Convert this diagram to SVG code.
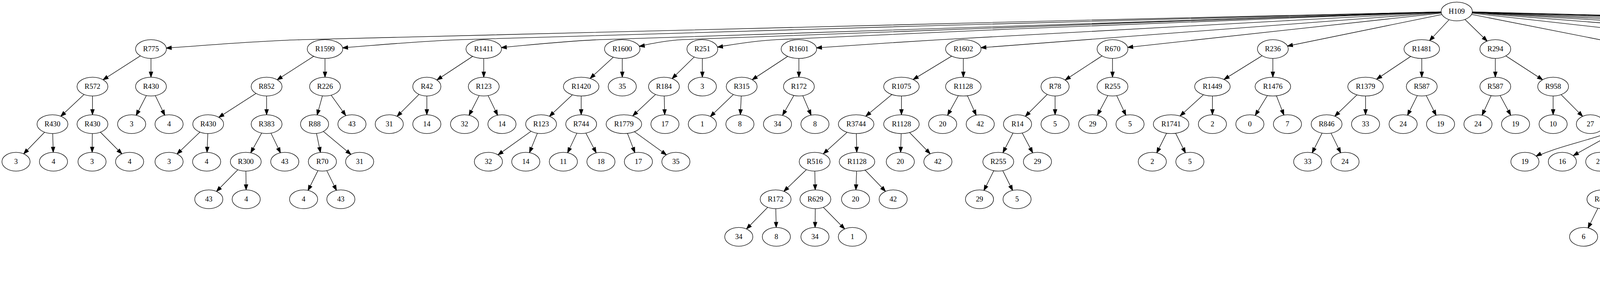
<svg xmlns="http://www.w3.org/2000/svg" width="6876" height="731" viewBox="0 0 6876 731">
<style>
.node ellipse{fill:#fff;stroke:#000;stroke-width:1.33}
.node text{font-family:"Liberation Serif","Times New Roman",serif;font-size:18.67px;text-anchor:middle;fill:#000}
#edges line,#edges path{stroke:#000;stroke-width:1.33;fill:none}
.ah{fill:#000;stroke:#000;stroke-width:1.33}
.m24{marker-end:url(#a24)}.m25{marker-end:url(#a25)}.m26{marker-end:url(#a26)}.m27{marker-end:url(#a27)}
.m28{marker-end:url(#a28)}.m29{marker-end:url(#a29)}.m30{marker-end:url(#a30)}.m31{marker-end:url(#a31)}
.m32{marker-end:url(#a32)}.m33{marker-end:url(#a33)}.m34{marker-end:url(#a34)}.m35{marker-end:url(#a35)}
.m36{marker-end:url(#a36)}.m38{marker-end:url(#a38)}.m39{marker-end:url(#a39)}.m43{marker-end:url(#a43)}
.m44{marker-end:url(#a44)}.m45{marker-end:url(#a45)}
</style>
<defs>
<marker id="a24" markerUnits="userSpaceOnUse" markerWidth="70" markerHeight="10" refX="37.33" refY="4.67" orient="auto" overflow="visible"><path class="ah" d="M0,0L13.33,4.67L0,9.33z"/></marker>
<marker id="a25" markerUnits="userSpaceOnUse" markerWidth="70" markerHeight="10" refX="38.33" refY="4.67" orient="auto" overflow="visible"><path class="ah" d="M0,0L13.33,4.67L0,9.33z"/></marker>
<marker id="a26" markerUnits="userSpaceOnUse" markerWidth="70" markerHeight="10" refX="39.33" refY="4.67" orient="auto" overflow="visible"><path class="ah" d="M0,0L13.33,4.67L0,9.33z"/></marker>
<marker id="a27" markerUnits="userSpaceOnUse" markerWidth="70" markerHeight="10" refX="40.33" refY="4.67" orient="auto" overflow="visible"><path class="ah" d="M0,0L13.33,4.67L0,9.33z"/></marker>
<marker id="a28" markerUnits="userSpaceOnUse" markerWidth="70" markerHeight="10" refX="41.33" refY="4.67" orient="auto" overflow="visible"><path class="ah" d="M0,0L13.33,4.67L0,9.33z"/></marker>
<marker id="a29" markerUnits="userSpaceOnUse" markerWidth="70" markerHeight="10" refX="42.33" refY="4.67" orient="auto" overflow="visible"><path class="ah" d="M0,0L13.33,4.67L0,9.33z"/></marker>
<marker id="a30" markerUnits="userSpaceOnUse" markerWidth="70" markerHeight="10" refX="43.33" refY="4.67" orient="auto" overflow="visible"><path class="ah" d="M0,0L13.33,4.67L0,9.33z"/></marker>
<marker id="a31" markerUnits="userSpaceOnUse" markerWidth="70" markerHeight="10" refX="44.33" refY="4.67" orient="auto" overflow="visible"><path class="ah" d="M0,0L13.33,4.67L0,9.33z"/></marker>
<marker id="a32" markerUnits="userSpaceOnUse" markerWidth="70" markerHeight="10" refX="45.33" refY="4.67" orient="auto" overflow="visible"><path class="ah" d="M0,0L13.33,4.67L0,9.33z"/></marker>
<marker id="a33" markerUnits="userSpaceOnUse" markerWidth="70" markerHeight="10" refX="46.33" refY="4.67" orient="auto" overflow="visible"><path class="ah" d="M0,0L13.33,4.67L0,9.33z"/></marker>
<marker id="a34" markerUnits="userSpaceOnUse" markerWidth="70" markerHeight="10" refX="47.33" refY="4.67" orient="auto" overflow="visible"><path class="ah" d="M0,0L13.33,4.67L0,9.33z"/></marker>
<marker id="a35" markerUnits="userSpaceOnUse" markerWidth="70" markerHeight="10" refX="48.33" refY="4.67" orient="auto" overflow="visible"><path class="ah" d="M0,0L13.33,4.67L0,9.33z"/></marker>
<marker id="a36" markerUnits="userSpaceOnUse" markerWidth="70" markerHeight="10" refX="49.33" refY="4.67" orient="auto" overflow="visible"><path class="ah" d="M0,0L13.33,4.67L0,9.33z"/></marker>
<marker id="a38" markerUnits="userSpaceOnUse" markerWidth="70" markerHeight="10" refX="51.33" refY="4.67" orient="auto" overflow="visible"><path class="ah" d="M0,0L13.33,4.67L0,9.33z"/></marker>
<marker id="a39" markerUnits="userSpaceOnUse" markerWidth="70" markerHeight="10" refX="52.33" refY="4.67" orient="auto" overflow="visible"><path class="ah" d="M0,0L13.33,4.67L0,9.33z"/></marker>
<marker id="a43" markerUnits="userSpaceOnUse" markerWidth="70" markerHeight="10" refX="56.33" refY="4.67" orient="auto" overflow="visible"><path class="ah" d="M0,0L13.33,4.67L0,9.33z"/></marker>
<marker id="a44" markerUnits="userSpaceOnUse" markerWidth="70" markerHeight="10" refX="57.33" refY="4.67" orient="auto" overflow="visible"><path class="ah" d="M0,0L13.33,4.67L0,9.33z"/></marker>
<marker id="a45" markerUnits="userSpaceOnUse" markerWidth="70" markerHeight="10" refX="58.33" refY="4.67" orient="auto" overflow="visible"><path class="ah" d="M0,0L13.33,4.67L0,9.33z"/></marker>
</defs>
<rect width="6876" height="731" fill="#fff"/>
<g id="edges">
<path d="M3729.2,29.33C2744.3,53.33 1759.5,73.04 774.5,101.33C645,105.05 515.8,117.33 386.5,125.33" class="m39"/>
<path d="M3729.2,29.33C2879.8,53.33 2030.2,73.18 1180.9,101.33C1064.4,105.19 948.3,117.33 832,125.33" class="m45"/>
<path d="M3729.2,29.33C2998,53.33 2266.6,73.15 1535.5,101.33C1436.2,105.16 1337.4,117.33 1238.4,125.33" class="m45"/>
<path d="M3729.2,29.33C3068.3,53.33 2407.1,71.64 1746.5,101.33C1694.8,103.66 1644.2,117.33 1593,125.33" class="m44"/>
<path d="M3729.2,29.33C3148.7,53.33 2568,72.48 1987.7,101.33C1924.1,104.49 1861.2,117.33 1798,125.33" class="m39"/>
<path d="M3729.2,29.33C3289,53.33 2848.7,76.24 2408.6,101.33C2287.4,108.24 2166.3,117.33 2045.2,125.33" class="m45"/>
<line x1="3729.2" y1="29.33" x2="2466.1" y2="125.33" class="m45"/>
<line x1="3729.2" y1="29.33" x2="2848" y2="125.33" class="m39"/>
<line x1="3729.2" y1="29.33" x2="3258.5" y2="125.33" class="m38"/>
<line x1="3729.2" y1="29.33" x2="3639.7" y2="125.33" class="m29"/>
<line x1="3729.2" y1="29.33" x2="3828" y2="125.33" class="m29"/>
<line x1="3729.2" y1="29.33" x2="4217.1" y2="125.33" class="m43"/>
<line x1="3729.2" y1="29.33" x2="4589.2" y2="125.33" class="m39"/>
<path d="M3729.2,29.33C4033,53.33 4337,75.39 4640.7,101.33C4711.6,107.39 4782.2,117.33 4853,125.33" class="m44"/>
<path d="M3729.2,29.33C4123,53.33 4517,73.73 4910.5,101.33C4973.4,105.75 5035.7,117.33 5098.3,125.33" class="m35"/>
<path d="M3729.2,29.33C4201.6,53.33 4674,74.79 5146.3,101.33C5243.4,106.79 5340.2,117.33 5437.1,125.33" class="m45"/>
<path d="M3729.2,29.33C4317.7,53.33 4906.2,74.83 5494.6,101.33C5616.9,106.84 5738.9,117.33 5861,125.33" class="m45"/>
<path d="M3729.2,29.33C4459,53.33 5188.9,71.9 5918.5,101.33C5982.4,103.91 6045.4,117.33 6108.8,125.33" class="m44"/>
<path d="M3729.2,29.33C4541.6,53.33 5354.1,71.82 6166.3,101.33C6235.3,103.84 6303.3,117.33 6371.8,125.33" class="m44"/>
<path d="M3729.2,29.33C4629.2,53.33 5529.5,69.9 6429.3,101.33C6447.2,101.95 6461.3,117.33 6477.3,125.33" class="m32"/>
<line x1="386.5" y1="125.33" x2="236.7" y2="221.33" class="m32"/>
<line x1="386.5" y1="125.33" x2="386.5" y2="221.33" class="m24"/>
<line x1="832" y1="125.33" x2="682.5" y2="221.33" class="m32"/>
<line x1="832" y1="125.33" x2="832" y2="221.33" class="m24"/>
<line x1="1238.4" y1="125.33" x2="1092.7" y2="221.33" class="m31"/>
<line x1="1238.4" y1="125.33" x2="1238.4" y2="221.33" class="m24"/>
<line x1="1593" y1="125.33" x2="1487.8" y2="221.33" class="m31"/>
<line x1="1593" y1="125.33" x2="1593" y2="221.33" class="m24"/>
<line x1="1798" y1="125.33" x2="1699.7" y2="221.33" class="m29"/>
<line x1="1798" y1="125.33" x2="1798" y2="221.33" class="m24"/>
<line x1="2045.2" y1="125.33" x2="1898.7" y2="221.33" class="m32"/>
<line x1="2045.2" y1="125.33" x2="2045.2" y2="221.33" class="m24"/>
<line x1="2466.1" y1="125.33" x2="2307.7" y2="221.33" class="m35"/>
<line x1="2466.1" y1="125.33" x2="2466.1" y2="221.33" class="m24"/>
<line x1="2848" y1="125.33" x2="2701" y2="221.33" class="m31"/>
<line x1="2848" y1="125.33" x2="2848" y2="221.33" class="m24"/>
<line x1="3258.5" y1="125.33" x2="3103.8" y2="221.33" class="m35"/>
<line x1="3258.5" y1="125.33" x2="3258.5" y2="221.33" class="m24"/>
<line x1="3639.7" y1="125.33" x2="3495.8" y2="221.33" class="m34"/>
<line x1="3639.7" y1="125.33" x2="3639.7" y2="221.33" class="m24"/>
<line x1="3828" y1="125.33" x2="3828" y2="221.33" class="m24"/>
<line x1="3828" y1="125.33" x2="3976" y2="221.33" class="m32"/>
<line x1="4217.1" y1="125.33" x2="4217.1" y2="221.33" class="m24"/>
<line x1="4217.1" y1="125.33" x2="4377" y2="221.33" class="m35"/>
<line x1="4589.2" y1="125.33" x2="4589.2" y2="221.33" class="m24"/>
<line x1="4589.2" y1="125.33" x2="4689.1" y2="221.33" class="m28"/>
<line x1="4853" y1="125.33" x2="4853" y2="221.33" class="m24"/>
<line x1="4853" y1="125.33" x2="4992.9" y2="221.33" class="m34"/>
<line x1="5098.3" y1="125.33" x2="5098.3" y2="221.33" class="m24"/>
<line x1="5098.3" y1="125.33" x2="5194" y2="221.33" class="m28"/>
<line x1="5437.1" y1="125.33" x2="5437.1" y2="221.33" class="m24"/>
<line x1="5437.1" y1="125.33" x2="5661.2" y2="221.33" class="m38"/>
<line x1="5861" y1="125.33" x2="5861" y2="221.33" class="m24"/>
<line x1="5861" y1="125.33" x2="5961.1" y2="221.33" class="m28"/>
<line x1="6108.8" y1="125.33" x2="6108.8" y2="221.33" class="m24"/>
<line x1="6108.8" y1="125.33" x2="6266" y2="221.33" class="m35"/>
<line x1="6371.8" y1="125.33" x2="6514.6" y2="221.33" class="m34"/>
<path d="M6371.8,125.33C6429.3,149.33 6583.85,185.33 6738.4,221.33" class="m38"/>
<line x1="236.7" y1="221.33" x2="134.3" y2="317.33" class="m29"/>
<line x1="236.7" y1="221.33" x2="236.7" y2="317.33" class="m24"/>
<line x1="386.5" y1="221.33" x2="337" y2="317.33" class="m25"/>
<line x1="386.5" y1="221.33" x2="432.8" y2="317.33" class="m25"/>
<line x1="682.5" y1="221.33" x2="533" y2="317.33" class="m32"/>
<line x1="682.5" y1="221.33" x2="682.5" y2="317.33" class="m24"/>
<line x1="832" y1="221.33" x2="805.3" y2="317.33" class="m24"/>
<line x1="832" y1="221.33" x2="901" y2="317.33" class="m27"/>
<line x1="1092.7" y1="221.33" x2="996.5" y2="317.33" class="m28"/>
<line x1="1092.7" y1="221.33" x2="1092.7" y2="317.33" class="m24"/>
<line x1="1238.4" y1="221.33" x2="1189.2" y2="317.33" class="m25"/>
<line x1="1238.4" y1="221.33" x2="1285" y2="317.33" class="m25"/>
<line x1="1487.8" y1="221.33" x2="1385.2" y2="317.33" class="m29"/>
<line x1="1487.8" y1="221.33" x2="1487.8" y2="317.33" class="m24"/>
<line x1="1699.7" y1="221.33" x2="1597.2" y2="317.33" class="m31"/>
<line x1="1699.7" y1="221.33" x2="1702.3" y2="317.33" class="m24"/>
<line x1="1898.7" y1="221.33" x2="1798" y2="317.33" class="m28"/>
<line x1="1898.7" y1="221.33" x2="1894.2" y2="317.33" class="m24"/>
<line x1="2045.2" y1="221.33" x2="1990.4" y2="317.33" class="m26"/>
<line x1="2045.2" y1="221.33" x2="2086.3" y2="317.33" class="m25"/>
<line x1="2307.7" y1="221.33" x2="2191.7" y2="317.33" class="m32"/>
<line x1="2307.7" y1="221.33" x2="2307.7" y2="317.33" class="m24"/>
<line x1="2466.1" y1="221.33" x2="2413.2" y2="317.33" class="m26"/>
<line x1="2466.1" y1="221.33" x2="2509.4" y2="317.33" class="m25"/>
<line x1="2701" y1="221.33" x2="2604.9" y2="317.33" class="m28"/>
<line x1="2701" y1="221.33" x2="2701" y2="317.33" class="m24"/>
<line x1="2848" y1="221.33" x2="2797.2" y2="317.33" class="m26"/>
<line x1="2848" y1="221.33" x2="2892.9" y2="317.33" class="m25"/>
<line x1="3103.8" y1="221.33" x2="2998" y2="317.33" class="m31"/>
<line x1="3103.8" y1="221.33" x2="3103.8" y2="317.33" class="m24"/>
<line x1="3258.5" y1="221.33" x2="3199.7" y2="317.33" class="m26"/>
<line x1="3258.5" y1="221.33" x2="3295.9" y2="317.33" class="m25"/>
<line x1="3495.8" y1="221.33" x2="3396.1" y2="317.33" class="m29"/>
<line x1="3495.8" y1="221.33" x2="3495.8" y2="317.33" class="m24"/>
<line x1="3639.7" y1="221.33" x2="3592" y2="317.33" class="m25"/>
<line x1="3639.7" y1="221.33" x2="3687.8" y2="317.33" class="m25"/>
<line x1="3828" y1="221.33" x2="3783.6" y2="317.33" class="m25"/>
<line x1="3828" y1="221.33" x2="3879.8" y2="317.33" class="m26"/>
<line x1="3976" y1="221.33" x2="3976" y2="317.33" class="m24"/>
<line x1="3976" y1="221.33" x2="4071.4" y2="317.33" class="m28"/>
<line x1="4217.1" y1="221.33" x2="4172" y2="317.33" class="m25"/>
<line x1="4217.1" y1="221.33" x2="4271.9" y2="317.33" class="m26"/>
<line x1="4377" y1="221.33" x2="4377" y2="317.33" class="m24"/>
<line x1="4377" y1="221.33" x2="4486" y2="317.33" class="m30"/>
<line x1="4589.2" y1="221.33" x2="4589.2" y2="317.33" class="m24"/>
<line x1="4589.2" y1="221.33" x2="4689.1" y2="317.33" class="m28"/>
<line x1="4853" y1="221.33" x2="4794.2" y2="317.33" class="m27"/>
<line x1="4853" y1="221.33" x2="4910" y2="317.33" class="m27"/>
<line x1="4992.9" y1="221.33" x2="5054.6" y2="317.33" class="m27"/>
<line x1="4992.9" y1="221.33" x2="5159.2" y2="317.33" class="m31"/>
<line x1="5437.1" y1="221.33" x2="5379.7" y2="317.33" class="m27"/>
<line x1="5437.1" y1="221.33" x2="5495.5" y2="317.33" class="m27"/>
<line x1="5661.2" y1="221.33" x2="5661.2" y2="317.33" class="m24"/>
<line x1="5661.2" y1="221.33" x2="5761" y2="317.33" class="m28"/>
<line x1="5861" y1="221.33" x2="5861" y2="317.33" class="m24"/>
<line x1="5861" y1="221.33" x2="5961.1" y2="317.33" class="m28"/>
<line x1="6108.8" y1="221.33" x2="6057" y2="317.33" class="m26"/>
<line x1="6108.8" y1="221.33" x2="6157.2" y2="317.33" class="m26"/>
<line x1="6266" y1="221.33" x2="6266" y2="317.33" class="m24"/>
<line x1="6266" y1="221.33" x2="6371.8" y2="317.33" class="m29"/>
<line x1="6514.6" y1="221.33" x2="6514.6" y2="317.33" class="m24"/>
<line x1="6514.6" y1="221.33" x2="6638.2" y2="317.33" class="m31"/>
<line x1="6738.4" y1="221.33" x2="6738.4" y2="317.33" class="m24"/>
<line x1="6738.4" y1="221.33" x2="6834.3" y2="317.33" class="m28"/>
<line x1="134.3" y1="317.33" x2="41" y2="413.33" class="m28"/>
<line x1="134.3" y1="317.33" x2="136.9" y2="413.33" class="m24"/>
<line x1="236.7" y1="317.33" x2="235.6" y2="413.33" class="m24"/>
<line x1="236.7" y1="317.33" x2="331.8" y2="413.33" class="m28"/>
<line x1="533" y1="317.33" x2="432.8" y2="413.33" class="m28"/>
<line x1="533" y1="317.33" x2="529" y2="413.33" class="m24"/>
<line x1="682.5" y1="317.33" x2="629.2" y2="413.33" class="m26"/>
<line x1="682.5" y1="317.33" x2="729" y2="413.33" class="m25"/>
<line x1="805.3" y1="317.33" x2="825.3" y2="413.33" class="m24"/>
<line x1="805.3" y1="317.33" x2="920.7" y2="413.33" class="m29"/>
<line x1="1385.2" y1="317.33" x2="1250.3" y2="413.33" class="m30"/>
<line x1="1385.2" y1="317.33" x2="1346" y2="413.33" class="m25"/>
<line x1="1487.8" y1="317.33" x2="1442.2" y2="413.33" class="m25"/>
<line x1="1487.8" y1="317.33" x2="1538.4" y2="413.33" class="m26"/>
<line x1="1597.2" y1="317.33" x2="1634.3" y2="413.33" class="m25"/>
<line x1="1597.2" y1="317.33" x2="1730.3" y2="413.33" class="m30"/>
<line x1="2191.7" y1="317.33" x2="2085.5" y2="413.33" class="m30"/>
<line x1="2191.7" y1="317.33" x2="2193.9" y2="413.33" class="m24"/>
<line x1="2307.7" y1="317.33" x2="2304.8" y2="413.33" class="m24"/>
<line x1="2307.7" y1="317.33" x2="2401" y2="413.33" class="m28"/>
<line x1="2604.9" y1="317.33" x2="2555.6" y2="413.33" class="m26"/>
<line x1="2604.9" y1="317.33" x2="2655.9" y2="413.33" class="m26"/>
<line x1="2998" y1="317.33" x2="2949.9" y2="413.33" class="m25"/>
<line x1="2998" y1="317.33" x2="3046.1" y2="413.33" class="m25"/>
<line x1="3396.1" y1="317.33" x2="3347.7" y2="413.33" class="m25"/>
<line x1="3396.1" y1="317.33" x2="3443.3" y2="413.33" class="m25"/>
<path d="M4172,317.33C4066.8,365.33 3999.4,365.33 3903.8,413.33" class="m32"/>
<line x1="4172" y1="317.33" x2="3999.6" y2="413.33" class="m32"/>
<path d="M4377,317.33C4262.8,365.33 4191.4,365.33 4095.4,413.33" class="m32"/>
<line x1="4377" y1="317.33" x2="4200.9" y2="413.33" class="m36"/>
<line x1="4486" y1="317.33" x2="4310.3" y2="413.33" class="m33"/>
<line x1="4486" y1="317.33" x2="4410.2" y2="413.33" class="m27"/>
<line x1="4589.2" y1="317.33" x2="4506" y2="413.33" class="m27"/>
<line x1="4589.2" y1="317.33" x2="4601.8" y2="413.33" class="m24"/>
<line x1="4794.2" y1="317.33" x2="4698" y2="413.33" class="m28"/>
<line x1="4794.2" y1="317.33" x2="4794.2" y2="413.33" class="m24"/>
<line x1="4910" y1="317.33" x2="4890.4" y2="413.33" class="m24"/>
<line x1="4910" y1="317.33" x2="4986.2" y2="413.33" class="m27"/>
<line x1="5054.6" y1="317.33" x2="5082.3" y2="413.33" class="m24"/>
<line x1="5054.6" y1="317.33" x2="5178.1" y2="413.33" class="m30"/>
<line x1="5379.7" y1="317.33" x2="5283.5" y2="413.33" class="m30"/>
<line x1="5379.7" y1="317.33" x2="5389" y2="413.33" class="m24"/>
<line x1="5495.5" y1="317.33" x2="5485.1" y2="413.33" class="m24"/>
<line x1="5495.5" y1="317.33" x2="5580.9" y2="413.33" class="m28"/>
<line x1="5661.2" y1="317.33" x2="5676.7" y2="413.33" class="m24"/>
<line x1="5661.2" y1="317.33" x2="5772.9" y2="413.33" class="m29"/>
<line x1="5861" y1="317.33" x2="5869" y2="413.33" class="m24"/>
<line x1="5861" y1="317.33" x2="5964.9" y2="413.33" class="m29"/>
<line x1="6157.2" y1="317.33" x2="6061" y2="413.33" class="m28"/>
<line x1="6157.2" y1="317.33" x2="6157.2" y2="413.33" class="m24"/>
<line x1="6266" y1="317.33" x2="6257" y2="413.33" class="m24"/>
<line x1="6266" y1="317.33" x2="6357" y2="413.33" class="m28"/>
<line x1="6514.6" y1="317.33" x2="6457.3" y2="413.33" class="m26"/>
<line x1="6514.6" y1="317.33" x2="6559.8" y2="413.33" class="m25"/>
<line x1="6638.2" y1="317.33" x2="6659.7" y2="413.33" class="m24"/>
<line x1="6638.2" y1="317.33" x2="6755.9" y2="413.33" class="m29"/>
<line x1="629.2" y1="413.33" x2="534.5" y2="509.33" class="m28"/>
<line x1="629.2" y1="413.33" x2="630.3" y2="509.33" class="m24"/>
<line x1="825.3" y1="413.33" x2="777.2" y2="509.33" class="m25"/>
<line x1="825.3" y1="413.33" x2="872.6" y2="509.33" class="m25"/>
<line x1="2085.5" y1="413.33" x2="1985.6" y2="509.33" class="m29"/>
<line x1="2085.5" y1="413.33" x2="2087.4" y2="509.33" class="m24"/>
<line x1="2193.9" y1="413.33" x2="2190.2" y2="509.33" class="m24"/>
<line x1="2193.9" y1="413.33" x2="2286.5" y2="509.33" class="m28"/>
<line x1="2555.6" y1="413.33" x2="2507.5" y2="509.33" class="m25"/>
<line x1="2555.6" y1="413.33" x2="2603.7" y2="509.33" class="m25"/>
<line x1="4200.9" y1="413.33" x2="4102.1" y2="509.33" class="m29"/>
<line x1="4200.9" y1="413.33" x2="4202" y2="509.33" class="m24"/>
<line x1="4310.3" y1="413.33" x2="4301.9" y2="509.33" class="m24"/>
<line x1="4310.3" y1="413.33" x2="4398" y2="509.33" class="m28"/>
<line x1="4506" y1="413.33" x2="4504.9" y2="509.33" class="m24"/>
<line x1="4506" y1="413.33" x2="4610" y2="509.33" class="m29"/>
<line x1="5283.5" y1="413.33" x2="5235.4" y2="509.33" class="m25"/>
<line x1="5283.5" y1="413.33" x2="5331.6" y2="509.33" class="m25"/>
<line x1="6257" y1="413.33" x2="6135.4" y2="509.33" class="m30"/>
<line x1="6257" y1="413.33" x2="6256.7" y2="509.33" class="m24"/>
<line x1="6457.3" y1="413.33" x2="6357" y2="509.33" class="m29"/>
<line x1="6457.3" y1="413.33" x2="6459.9" y2="509.33" class="m24"/>
<line x1="6559.8" y1="413.33" x2="6559" y2="509.33" class="m24"/>
<line x1="6559.8" y1="413.33" x2="6655.6" y2="509.33" class="m28"/>
<line x1="1985.6" y1="509.33" x2="1891.3" y2="605.33" class="m28"/>
<line x1="1985.6" y1="509.33" x2="1987.5" y2="605.33" class="m24"/>
<line x1="2087.4" y1="509.33" x2="2086.3" y2="605.33" class="m24"/>
<line x1="2087.4" y1="509.33" x2="2182.1" y2="605.33" class="m28"/>
<line x1="4102.1" y1="509.33" x2="4054" y2="605.33" class="m25"/>
<line x1="4102.1" y1="509.33" x2="4150.2" y2="605.33" class="m25"/>
<line x1="4504.9" y1="509.33" x2="4457.3" y2="605.33" class="m25"/>
<line x1="4504.9" y1="509.33" x2="4552.3" y2="605.33" class="m25"/>
<line x1="6135.4" y1="509.33" x2="6039.6" y2="605.33" class="m28"/>
<line x1="6135.4" y1="509.33" x2="6135.4" y2="605.33" class="m24"/>
<line x1="6357" y1="509.33" x2="6240.8" y2="605.33" class="m32"/>
<line x1="6357" y1="509.33" x2="6357" y2="605.33" class="m24"/>
<line x1="6459.9" y1="509.33" x2="6462.1" y2="605.33" class="m24"/>
<line x1="6459.9" y1="509.33" x2="6558" y2="605.33" class="m28"/>
<line x1="6240.8" y1="605.33" x2="6149.8" y2="701.33" class="m28"/>
<line x1="6240.8" y1="605.33" x2="6246" y2="701.33" class="m24"/>
<line x1="6357" y1="605.33" x2="6351.5" y2="701.33" class="m24"/>
<line x1="6357" y1="605.33" x2="6447.7" y2="701.33" class="m28"/>
</g>
<g id="L0_3729" class="node"><ellipse cx="3729.2" cy="29.33" rx="40" ry="24"/><text x="3729.2" y="34.93">H109</text></g>
<g id="L1_386" class="node"><ellipse cx="386.5" cy="125.33" rx="39.5" ry="24"/><text x="386.5" y="130.93">R775</text></g>
<g id="L1_832" class="node"><ellipse cx="832" cy="125.33" rx="45.5" ry="24"/><text x="832" y="130.93">R1599</text></g>
<g id="L1_1238" class="node"><ellipse cx="1238.4" cy="125.33" rx="45.5" ry="24"/><text x="1238.4" y="130.93">R1411</text></g>
<g id="L1_1593" class="node"><ellipse cx="1593" cy="125.33" rx="45.5" ry="24"/><text x="1593" y="130.93">R1600</text></g>
<g id="L1_1798" class="node"><ellipse cx="1798" cy="125.33" rx="39.5" ry="24"/><text x="1798" y="130.93">R251</text></g>
<g id="L1_2045" class="node"><ellipse cx="2045.2" cy="125.33" rx="45.5" ry="24"/><text x="2045.2" y="130.93">R1601</text></g>
<g id="L1_2466" class="node"><ellipse cx="2466.1" cy="125.33" rx="45.5" ry="24"/><text x="2466.1" y="130.93">R1602</text></g>
<g id="L1_2848" class="node"><ellipse cx="2848" cy="125.33" rx="39.5" ry="24"/><text x="2848" y="130.93">R670</text></g>
<g id="L1_3258" class="node"><ellipse cx="3258.5" cy="125.33" rx="39.5" ry="24"/><text x="3258.5" y="130.93">R236</text></g>
<g id="L1_3640" class="node"><ellipse cx="3639.7" cy="125.33" rx="45.5" ry="24"/><text x="3639.7" y="130.93">R1481</text></g>
<g id="L1_3828" class="node"><ellipse cx="3828" cy="125.33" rx="39.5" ry="24"/><text x="3828" y="130.93">R294</text></g>
<g id="L1_4217" class="node"><ellipse cx="4217.1" cy="125.33" rx="45.5" ry="24"/><text x="4217.1" y="130.93">R1603</text></g>
<g id="L1_4589" class="node"><ellipse cx="4589.2" cy="125.33" rx="39.5" ry="24"/><text x="4589.2" y="130.93">R963</text></g>
<g id="L1_4853" class="node"><ellipse cx="4853" cy="125.33" rx="45.5" ry="24"/><text x="4853" y="130.93">R1484</text></g>
<g id="L1_5098" class="node"><ellipse cx="5098.3" cy="125.33" rx="36" ry="24"/><text x="5098.3" y="130.93">R64</text></g>
<g id="L1_5437" class="node"><ellipse cx="5437.1" cy="125.33" rx="45.5" ry="24"/><text x="5437.1" y="130.93">R1604</text></g>
<g id="L1_5861" class="node"><ellipse cx="5861" cy="125.33" rx="45.5" ry="24"/><text x="5861" y="130.93">R1191</text></g>
<g id="L1_6109" class="node"><ellipse cx="6108.8" cy="125.33" rx="45.5" ry="24"/><text x="6108.8" y="130.93">R1605</text></g>
<g id="L1_6372" class="node"><ellipse cx="6371.8" cy="125.33" rx="45.5" ry="24"/><text x="6371.8" y="130.93">R1436</text></g>
<g id="L1_6477" class="node"><ellipse cx="6477.3" cy="125.33" rx="36" ry="24"/><text x="6477.3" y="130.93">23</text></g>
<g id="L2_237" class="node"><ellipse cx="236.7" cy="221.33" rx="39.5" ry="24"/><text x="236.7" y="226.93">R572</text></g>
<g id="L2_386" class="node"><ellipse cx="386.5" cy="221.33" rx="39.5" ry="24"/><text x="386.5" y="226.93">R430</text></g>
<g id="L2_682" class="node"><ellipse cx="682.5" cy="221.33" rx="39.5" ry="24"/><text x="682.5" y="226.93">R852</text></g>
<g id="L2_832" class="node"><ellipse cx="832" cy="221.33" rx="39.5" ry="24"/><text x="832" y="226.93">R226</text></g>
<g id="L2_1093" class="node"><ellipse cx="1092.7" cy="221.33" rx="36" ry="24"/><text x="1092.7" y="226.93">R42</text></g>
<g id="L2_1238" class="node"><ellipse cx="1238.4" cy="221.33" rx="39.5" ry="24"/><text x="1238.4" y="226.93">R123</text></g>
<g id="L2_1488" class="node"><ellipse cx="1487.8" cy="221.33" rx="45.5" ry="24"/><text x="1487.8" y="226.93">R1420</text></g>
<g id="L2_1593" class="node"><ellipse cx="1593" cy="221.33" rx="36" ry="24"/><text x="1593" y="226.93">35</text></g>
<g id="L2_1700" class="node"><ellipse cx="1699.7" cy="221.33" rx="39.5" ry="24"/><text x="1699.7" y="226.93">R184</text></g>
<g id="L2_1798" class="node"><ellipse cx="1798" cy="221.33" rx="36" ry="24"/><text x="1798" y="226.93">3</text></g>
<g id="L2_1899" class="node"><ellipse cx="1898.7" cy="221.33" rx="39.5" ry="24"/><text x="1898.7" y="226.93">R315</text></g>
<g id="L2_2045" class="node"><ellipse cx="2045.2" cy="221.33" rx="39.5" ry="24"/><text x="2045.2" y="226.93">R172</text></g>
<g id="L2_2308" class="node"><ellipse cx="2307.7" cy="221.33" rx="45.5" ry="24"/><text x="2307.7" y="226.93">R1075</text></g>
<g id="L2_2466" class="node"><ellipse cx="2466.1" cy="221.33" rx="45.5" ry="24"/><text x="2466.1" y="226.93">R1128</text></g>
<g id="L2_2701" class="node"><ellipse cx="2701" cy="221.33" rx="36" ry="24"/><text x="2701" y="226.93">R78</text></g>
<g id="L2_2848" class="node"><ellipse cx="2848" cy="221.33" rx="39.5" ry="24"/><text x="2848" y="226.93">R255</text></g>
<g id="L2_3104" class="node"><ellipse cx="3103.8" cy="221.33" rx="45.5" ry="24"/><text x="3103.8" y="226.93">R1449</text></g>
<g id="L2_3258" class="node"><ellipse cx="3258.5" cy="221.33" rx="45.5" ry="24"/><text x="3258.5" y="226.93">R1476</text></g>
<g id="L2_3496" class="node"><ellipse cx="3495.8" cy="221.33" rx="45.5" ry="24"/><text x="3495.8" y="226.93">R1379</text></g>
<g id="L2_3640" class="node"><ellipse cx="3639.7" cy="221.33" rx="39.5" ry="24"/><text x="3639.7" y="226.93">R587</text></g>
<g id="L2_3828" class="node"><ellipse cx="3828" cy="221.33" rx="39.5" ry="24"/><text x="3828" y="226.93">R587</text></g>
<g id="L2_3976" class="node"><ellipse cx="3976" cy="221.33" rx="39.5" ry="24"/><text x="3976" y="226.93">R958</text></g>
<g id="L2_4217" class="node"><ellipse cx="4217.1" cy="221.33" rx="45.5" ry="24"/><text x="4217.1" y="226.93">R1345</text></g>
<g id="L2_4377" class="node"><ellipse cx="4377" cy="221.33" rx="45.5" ry="24"/><text x="4377" y="226.93">R1664</text></g>
<g id="L2_4589" class="node"><ellipse cx="4589.2" cy="221.33" rx="39.5" ry="24"/><text x="4589.2" y="226.93">R880</text></g>
<g id="L2_4689" class="node"><ellipse cx="4689.1" cy="221.33" rx="36" ry="24"/><text x="4689.1" y="226.93">36</text></g>
<g id="L2_4853" class="node"><ellipse cx="4853" cy="221.33" rx="36" ry="24"/><text x="4853" y="226.93">R99</text></g>
<g id="L2_4993" class="node"><ellipse cx="4992.9" cy="221.33" rx="45.5" ry="24"/><text x="4992.9" y="226.93">R1587</text></g>
<g id="L2_5098" class="node"><ellipse cx="5098.3" cy="221.33" rx="36" ry="24"/><text x="5098.3" y="226.93">37</text></g>
<g id="L2_5194" class="node"><ellipse cx="5194" cy="221.33" rx="36" ry="24"/><text x="5194" y="226.93">36</text></g>
<g id="L2_5437" class="node"><ellipse cx="5437.1" cy="221.33" rx="39.5" ry="24"/><text x="5437.1" y="226.93">R675</text></g>
<g id="L2_5661" class="node"><ellipse cx="5661.2" cy="221.33" rx="45.5" ry="24"/><text x="5661.2" y="226.93">R2098</text></g>
<g id="L2_5861" class="node"><ellipse cx="5861" cy="221.33" rx="39.5" ry="24"/><text x="5861" y="226.93">R737</text></g>
<g id="L2_5961" class="node"><ellipse cx="5961.1" cy="221.33" rx="36" ry="24"/><text x="5961.1" y="226.93">21</text></g>
<g id="L2_6109" class="node"><ellipse cx="6108.8" cy="221.33" rx="39.5" ry="24"/><text x="6108.8" y="226.93">R200</text></g>
<g id="L2_6266" class="node"><ellipse cx="6266" cy="221.33" rx="45.5" ry="24"/><text x="6266" y="226.93">R1148</text></g>
<g id="L2_6515" class="node"><ellipse cx="6514.6" cy="221.33" rx="45.5" ry="24"/><text x="6514.6" y="226.93">R1051</text></g>
<g id="L2_6738" class="node"><ellipse cx="6738.4" cy="221.33" rx="39.5" ry="24"/><text x="6738.4" y="226.93">R139</text></g>
<g id="L3_134" class="node"><ellipse cx="134.3" cy="317.33" rx="39.5" ry="24"/><text x="134.3" y="322.93">R430</text></g>
<g id="L3_237" class="node"><ellipse cx="236.7" cy="317.33" rx="39.5" ry="24"/><text x="236.7" y="322.93">R430</text></g>
<g id="L3_337" class="node"><ellipse cx="337" cy="317.33" rx="36" ry="24"/><text x="337" y="322.93">3</text></g>
<g id="L3_433" class="node"><ellipse cx="432.8" cy="317.33" rx="36" ry="24"/><text x="432.8" y="322.93">4</text></g>
<g id="L3_533" class="node"><ellipse cx="533" cy="317.33" rx="39.5" ry="24"/><text x="533" y="322.93">R430</text></g>
<g id="L3_682" class="node"><ellipse cx="682.5" cy="317.33" rx="39.5" ry="24"/><text x="682.5" y="322.93">R383</text></g>
<g id="L3_805" class="node"><ellipse cx="805.3" cy="317.33" rx="36" ry="24"/><text x="805.3" y="322.93">R88</text></g>
<g id="L3_901" class="node"><ellipse cx="901" cy="317.33" rx="36" ry="24"/><text x="901" y="322.93">43</text></g>
<g id="L3_996" class="node"><ellipse cx="996.5" cy="317.33" rx="36" ry="24"/><text x="996.5" y="322.93">31</text></g>
<g id="L3_1093" class="node"><ellipse cx="1092.7" cy="317.33" rx="36" ry="24"/><text x="1092.7" y="322.93">14</text></g>
<g id="L3_1189" class="node"><ellipse cx="1189.2" cy="317.33" rx="36" ry="24"/><text x="1189.2" y="322.93">32</text></g>
<g id="L3_1285" class="node"><ellipse cx="1285" cy="317.33" rx="36" ry="24"/><text x="1285" y="322.93">14</text></g>
<g id="L3_1385" class="node"><ellipse cx="1385.2" cy="317.33" rx="39.5" ry="24"/><text x="1385.2" y="322.93">R123</text></g>
<g id="L3_1488" class="node"><ellipse cx="1487.8" cy="317.33" rx="39.5" ry="24"/><text x="1487.8" y="322.93">R744</text></g>
<g id="L3_1597" class="node"><ellipse cx="1597.2" cy="317.33" rx="45.5" ry="24"/><text x="1597.2" y="322.93">R1779</text></g>
<g id="L3_1702" class="node"><ellipse cx="1702.3" cy="317.33" rx="36" ry="24"/><text x="1702.3" y="322.93">17</text></g>
<g id="L3_1798" class="node"><ellipse cx="1798" cy="317.33" rx="36" ry="24"/><text x="1798" y="322.93">1</text></g>
<g id="L3_1894" class="node"><ellipse cx="1894.2" cy="317.33" rx="36" ry="24"/><text x="1894.2" y="322.93">8</text></g>
<g id="L3_1990" class="node"><ellipse cx="1990.4" cy="317.33" rx="36" ry="24"/><text x="1990.4" y="322.93">34</text></g>
<g id="L3_2086" class="node"><ellipse cx="2086.3" cy="317.33" rx="36" ry="24"/><text x="2086.3" y="322.93">8</text></g>
<g id="L3_2192" class="node"><ellipse cx="2191.7" cy="317.33" rx="45.5" ry="24"/><text x="2191.7" y="322.93">R3744</text></g>
<g id="L3_2308" class="node"><ellipse cx="2307.7" cy="317.33" rx="45.5" ry="24"/><text x="2307.7" y="322.93">R1128</text></g>
<g id="L3_2413" class="node"><ellipse cx="2413.2" cy="317.33" rx="36" ry="24"/><text x="2413.2" y="322.93">20</text></g>
<g id="L3_2509" class="node"><ellipse cx="2509.4" cy="317.33" rx="36" ry="24"/><text x="2509.4" y="322.93">42</text></g>
<g id="L3_2605" class="node"><ellipse cx="2604.9" cy="317.33" rx="36" ry="24"/><text x="2604.9" y="322.93">R14</text></g>
<g id="L3_2701" class="node"><ellipse cx="2701" cy="317.33" rx="36" ry="24"/><text x="2701" y="322.93">5</text></g>
<g id="L3_2797" class="node"><ellipse cx="2797.2" cy="317.33" rx="36" ry="24"/><text x="2797.2" y="322.93">29</text></g>
<g id="L3_2893" class="node"><ellipse cx="2892.9" cy="317.33" rx="36" ry="24"/><text x="2892.9" y="322.93">5</text></g>
<g id="L3_2998" class="node"><ellipse cx="2998" cy="317.33" rx="45.5" ry="24"/><text x="2998" y="322.93">R1741</text></g>
<g id="L3_3104" class="node"><ellipse cx="3103.8" cy="317.33" rx="36" ry="24"/><text x="3103.8" y="322.93">2</text></g>
<g id="L3_3200" class="node"><ellipse cx="3199.7" cy="317.33" rx="36" ry="24"/><text x="3199.7" y="322.93">0</text></g>
<g id="L3_3296" class="node"><ellipse cx="3295.9" cy="317.33" rx="36" ry="24"/><text x="3295.9" y="322.93">7</text></g>
<g id="L3_3396" class="node"><ellipse cx="3396.1" cy="317.33" rx="39.5" ry="24"/><text x="3396.1" y="322.93">R846</text></g>
<g id="L3_3496" class="node"><ellipse cx="3495.8" cy="317.33" rx="36" ry="24"/><text x="3495.8" y="322.93">33</text></g>
<g id="L3_3592" class="node"><ellipse cx="3592" cy="317.33" rx="36" ry="24"/><text x="3592" y="322.93">24</text></g>
<g id="L3_3688" class="node"><ellipse cx="3687.8" cy="317.33" rx="36" ry="24"/><text x="3687.8" y="322.93">19</text></g>
<g id="L3_3784" class="node"><ellipse cx="3783.6" cy="317.33" rx="36" ry="24"/><text x="3783.6" y="322.93">24</text></g>
<g id="L3_3880" class="node"><ellipse cx="3879.8" cy="317.33" rx="36" ry="24"/><text x="3879.8" y="322.93">19</text></g>
<g id="L3_3976" class="node"><ellipse cx="3976" cy="317.33" rx="36" ry="24"/><text x="3976" y="322.93">10</text></g>
<g id="L3_4071" class="node"><ellipse cx="4071.4" cy="317.33" rx="36" ry="24"/><text x="4071.4" y="322.93">27</text></g>
<g id="L3_4172" class="node"><ellipse cx="4172" cy="317.33" rx="39.5" ry="24"/><text x="4172" y="322.93">R640</text></g>
<g id="L3_4272" class="node"><ellipse cx="4271.9" cy="317.33" rx="36" ry="24"/><text x="4271.9" y="322.93">6</text></g>
<g id="L3_4377" class="node"><ellipse cx="4377" cy="317.33" rx="45.5" ry="24"/><text x="4377" y="322.93">R1302</text></g>
<g id="L3_4486" class="node"><ellipse cx="4486" cy="317.33" rx="39.5" ry="24"/><text x="4486" y="322.93">R707</text></g>
<g id="L3_4589" class="node"><ellipse cx="4589.2" cy="317.33" rx="39.5" ry="24"/><text x="4589.2" y="322.93">R296</text></g>
<g id="L3_4689" class="node"><ellipse cx="4689.1" cy="317.33" rx="36" ry="24"/><text x="4689.1" y="322.93">9</text></g>
<g id="L3_4794" class="node"><ellipse cx="4794.2" cy="317.33" rx="45.5" ry="24"/><text x="4794.2" y="322.93">R2774</text></g>
<g id="L3_4910" class="node"><ellipse cx="4910" cy="317.33" rx="45.5" ry="24"/><text x="4910" y="322.93">R2774</text></g>
<g id="L3_5055" class="node"><ellipse cx="5054.6" cy="317.33" rx="45.5" ry="24"/><text x="5054.6" y="322.93">R2123</text></g>
<g id="L3_5159" class="node"><ellipse cx="5159.2" cy="317.33" rx="36" ry="24"/><text x="5159.2" y="322.93">15</text></g>
<g id="L3_5380" class="node"><ellipse cx="5379.7" cy="317.33" rx="45.5" ry="24"/><text x="5379.7" y="322.93">R2686</text></g>
<g id="L3_5496" class="node"><ellipse cx="5495.5" cy="317.33" rx="45.5" ry="24"/><text x="5495.5" y="322.93">R1121</text></g>
<g id="L3_5661" class="node"><ellipse cx="5661.2" cy="317.33" rx="39.5" ry="24"/><text x="5661.2" y="322.93">R136</text></g>
<g id="L3_5761" class="node"><ellipse cx="5761" cy="317.33" rx="36" ry="24"/><text x="5761" y="322.93">30</text></g>
<g id="L3_5861" class="node"><ellipse cx="5861" cy="317.33" rx="39.5" ry="24"/><text x="5861" y="322.93">R116</text></g>
<g id="L3_5961" class="node"><ellipse cx="5961.1" cy="317.33" rx="36" ry="24"/><text x="5961.1" y="322.93">39</text></g>
<g id="L3_6057" class="node"><ellipse cx="6057" cy="317.33" rx="36" ry="24"/><text x="6057" y="322.93">39</text></g>
<g id="L3_6157" class="node"><ellipse cx="6157.2" cy="317.33" rx="39.5" ry="24"/><text x="6157.2" y="322.93">R116</text></g>
<g id="L3_6266" class="node"><ellipse cx="6266" cy="317.33" rx="45.5" ry="24"/><text x="6266" y="322.93">R2336</text></g>
<g id="L3_6372" class="node"><ellipse cx="6371.8" cy="317.33" rx="36" ry="24"/><text x="6371.8" y="322.93">39</text></g>
<g id="L3_6515" class="node"><ellipse cx="6514.6" cy="317.33" rx="39.5" ry="24"/><text x="6514.6" y="322.93">R595</text></g>
<g id="L3_6638" class="node"><ellipse cx="6638.2" cy="317.33" rx="39.5" ry="24"/><text x="6638.2" y="322.93">R139</text></g>
<g id="L3_6738" class="node"><ellipse cx="6738.4" cy="317.33" rx="36" ry="24"/><text x="6738.4" y="322.93">23</text></g>
<g id="L3_6834" class="node"><ellipse cx="6834.3" cy="317.33" rx="36" ry="24"/><text x="6834.3" y="322.93">39</text></g>
<g id="L4_41" class="node"><ellipse cx="41" cy="413.33" rx="36" ry="24"/><text x="41" y="418.93">3</text></g>
<g id="L4_137" class="node"><ellipse cx="136.9" cy="413.33" rx="36" ry="24"/><text x="136.9" y="418.93">4</text></g>
<g id="L4_236" class="node"><ellipse cx="235.6" cy="413.33" rx="36" ry="24"/><text x="235.6" y="418.93">3</text></g>
<g id="L4_332" class="node"><ellipse cx="331.8" cy="413.33" rx="36" ry="24"/><text x="331.8" y="418.93">4</text></g>
<g id="L4_433" class="node"><ellipse cx="432.8" cy="413.33" rx="36" ry="24"/><text x="432.8" y="418.93">3</text></g>
<g id="L4_529" class="node"><ellipse cx="529" cy="413.33" rx="36" ry="24"/><text x="529" y="418.93">4</text></g>
<g id="L4_629" class="node"><ellipse cx="629.2" cy="413.33" rx="39.5" ry="24"/><text x="629.2" y="418.93">R300</text></g>
<g id="L4_729" class="node"><ellipse cx="729" cy="413.33" rx="36" ry="24"/><text x="729" y="418.93">43</text></g>
<g id="L4_825" class="node"><ellipse cx="825.3" cy="413.33" rx="36" ry="24"/><text x="825.3" y="418.93">R70</text></g>
<g id="L4_921" class="node"><ellipse cx="920.7" cy="413.33" rx="36" ry="24"/><text x="920.7" y="418.93">31</text></g>
<g id="L4_1250" class="node"><ellipse cx="1250.3" cy="413.33" rx="36" ry="24"/><text x="1250.3" y="418.93">32</text></g>
<g id="L4_1346" class="node"><ellipse cx="1346" cy="413.33" rx="36" ry="24"/><text x="1346" y="418.93">14</text></g>
<g id="L4_1442" class="node"><ellipse cx="1442.2" cy="413.33" rx="36" ry="24"/><text x="1442.2" y="418.93">11</text></g>
<g id="L4_1538" class="node"><ellipse cx="1538.4" cy="413.33" rx="36" ry="24"/><text x="1538.4" y="418.93">18</text></g>
<g id="L4_1634" class="node"><ellipse cx="1634.3" cy="413.33" rx="36" ry="24"/><text x="1634.3" y="418.93">17</text></g>
<g id="L4_1730" class="node"><ellipse cx="1730.3" cy="413.33" rx="36" ry="24"/><text x="1730.3" y="418.93">35</text></g>
<g id="L4_2086" class="node"><ellipse cx="2085.5" cy="413.33" rx="39.5" ry="24"/><text x="2085.5" y="418.93">R516</text></g>
<g id="L4_2194" class="node"><ellipse cx="2193.9" cy="413.33" rx="45.5" ry="24"/><text x="2193.9" y="418.93">R1128</text></g>
<g id="L4_2305" class="node"><ellipse cx="2304.8" cy="413.33" rx="36" ry="24"/><text x="2304.8" y="418.93">20</text></g>
<g id="L4_2401" class="node"><ellipse cx="2401" cy="413.33" rx="36" ry="24"/><text x="2401" y="418.93">42</text></g>
<g id="L4_2556" class="node"><ellipse cx="2555.6" cy="413.33" rx="39.5" ry="24"/><text x="2555.6" y="418.93">R255</text></g>
<g id="L4_2656" class="node"><ellipse cx="2655.9" cy="413.33" rx="36" ry="24"/><text x="2655.9" y="418.93">29</text></g>
<g id="L4_2950" class="node"><ellipse cx="2949.9" cy="413.33" rx="36" ry="24"/><text x="2949.9" y="418.93">2</text></g>
<g id="L4_3046" class="node"><ellipse cx="3046.1" cy="413.33" rx="36" ry="24"/><text x="3046.1" y="418.93">5</text></g>
<g id="L4_3348" class="node"><ellipse cx="3347.7" cy="413.33" rx="36" ry="24"/><text x="3347.7" y="418.93">33</text></g>
<g id="L4_3443" class="node"><ellipse cx="3443.3" cy="413.33" rx="36" ry="24"/><text x="3443.3" y="418.93">24</text></g>
<g id="L4_3904" class="node"><ellipse cx="3903.8" cy="413.33" rx="36" ry="24"/><text x="3903.8" y="418.93">19</text></g>
<g id="L4_4000" class="node"><ellipse cx="3999.6" cy="413.33" rx="36" ry="24"/><text x="3999.6" y="418.93">16</text></g>
<g id="L4_4095" class="node"><ellipse cx="4095.4" cy="413.33" rx="36" ry="24"/><text x="4095.4" y="418.93">25</text></g>
<g id="L4_4201" class="node"><ellipse cx="4200.9" cy="413.33" rx="45.5" ry="24"/><text x="4200.9" y="418.93">R1371</text></g>
<g id="L4_4310" class="node"><ellipse cx="4310.3" cy="413.33" rx="39.5" ry="24"/><text x="4310.3" y="418.93">R340</text></g>
<g id="L4_4410" class="node"><ellipse cx="4410.2" cy="413.33" rx="36" ry="24"/><text x="4410.2" y="418.93">26</text></g>
<g id="L4_4506" class="node"><ellipse cx="4506" cy="413.33" rx="36" ry="24"/><text x="4506" y="418.93">R21</text></g>
<g id="L4_4602" class="node"><ellipse cx="4601.8" cy="413.33" rx="36" ry="24"/><text x="4601.8" y="418.93">26</text></g>
<g id="L4_4698" class="node"><ellipse cx="4698" cy="413.33" rx="36" ry="24"/><text x="4698" y="418.93">9</text></g>
<g id="L4_4794" class="node"><ellipse cx="4794.2" cy="413.33" rx="36" ry="24"/><text x="4794.2" y="418.93">36</text></g>
<g id="L4_4890" class="node"><ellipse cx="4890.4" cy="413.33" rx="36" ry="24"/><text x="4890.4" y="418.93">9</text></g>
<g id="L4_4986" class="node"><ellipse cx="4986.2" cy="413.33" rx="36" ry="24"/><text x="4986.2" y="418.93">36</text></g>
<g id="L4_5082" class="node"><ellipse cx="5082.3" cy="413.33" rx="36" ry="24"/><text x="5082.3" y="418.93">15</text></g>
<g id="L4_5178" class="node"><ellipse cx="5178.1" cy="413.33" rx="36" ry="24"/><text x="5178.1" y="418.93">36</text></g>
<g id="L4_5284" class="node"><ellipse cx="5283.5" cy="413.33" rx="45.5" ry="24"/><text x="5283.5" y="418.93">R1540</text></g>
<g id="L4_5389" class="node"><ellipse cx="5389" cy="413.33" rx="36" ry="24"/><text x="5389" y="418.93">37</text></g>
<g id="L4_5485" class="node"><ellipse cx="5485.1" cy="413.33" rx="36" ry="24"/><text x="5485.1" y="418.93">41</text></g>
<g id="L4_5581" class="node"><ellipse cx="5580.9" cy="413.33" rx="36" ry="24"/><text x="5580.9" y="418.93">40</text></g>
<g id="L4_5677" class="node"><ellipse cx="5676.7" cy="413.33" rx="36" ry="24"/><text x="5676.7" y="418.93">30</text></g>
<g id="L4_5773" class="node"><ellipse cx="5772.9" cy="413.33" rx="36" ry="24"/><text x="5772.9" y="418.93">21</text></g>
<g id="L4_5869" class="node"><ellipse cx="5869" cy="413.33" rx="36" ry="24"/><text x="5869" y="418.93">21</text></g>
<g id="L4_5965" class="node"><ellipse cx="5964.9" cy="413.33" rx="36" ry="24"/><text x="5964.9" y="418.93">30</text></g>
<g id="L4_6061" class="node"><ellipse cx="6061" cy="413.33" rx="36" ry="24"/><text x="6061" y="418.93">21</text></g>
<g id="L4_6157" class="node"><ellipse cx="6157.2" cy="413.33" rx="36" ry="24"/><text x="6157.2" y="418.93">30</text></g>
<g id="L4_6257" class="node"><ellipse cx="6257" cy="413.33" rx="39.5" ry="24"/><text x="6257" y="418.93">R265</text></g>
<g id="L4_6357" class="node"><ellipse cx="6357" cy="413.33" rx="36" ry="24"/><text x="6357" y="418.93">30</text></g>
<g id="L4_6457" class="node"><ellipse cx="6457.3" cy="413.33" rx="39.5" ry="24"/><text x="6457.3" y="418.93">R360</text></g>
<g id="L4_6560" class="node"><ellipse cx="6559.8" cy="413.33" rx="39.5" ry="24"/><text x="6559.8" y="418.93">R139</text></g>
<g id="L4_6660" class="node"><ellipse cx="6659.7" cy="413.33" rx="36" ry="24"/><text x="6659.7" y="418.93">23</text></g>
<g id="L4_6756" class="node"><ellipse cx="6755.9" cy="413.33" rx="36" ry="24"/><text x="6755.9" y="418.93">39</text></g>
<g id="L5_535" class="node"><ellipse cx="534.5" cy="509.33" rx="36" ry="24"/><text x="534.5" y="514.93">43</text></g>
<g id="L5_630" class="node"><ellipse cx="630.3" cy="509.33" rx="36" ry="24"/><text x="630.3" y="514.93">4</text></g>
<g id="L5_777" class="node"><ellipse cx="777.2" cy="509.33" rx="36" ry="24"/><text x="777.2" y="514.93">4</text></g>
<g id="L5_873" class="node"><ellipse cx="872.6" cy="509.33" rx="36" ry="24"/><text x="872.6" y="514.93">43</text></g>
<g id="L5_1986" class="node"><ellipse cx="1985.6" cy="509.33" rx="39.5" ry="24"/><text x="1985.6" y="514.93">R172</text></g>
<g id="L5_2087" class="node"><ellipse cx="2087.4" cy="509.33" rx="39.5" ry="24"/><text x="2087.4" y="514.93">R629</text></g>
<g id="L5_2190" class="node"><ellipse cx="2190.2" cy="509.33" rx="36" ry="24"/><text x="2190.2" y="514.93">20</text></g>
<g id="L5_2287" class="node"><ellipse cx="2286.5" cy="509.33" rx="36" ry="24"/><text x="2286.5" y="514.93">42</text></g>
<g id="L5_2508" class="node"><ellipse cx="2507.5" cy="509.33" rx="36" ry="24"/><text x="2507.5" y="514.93">29</text></g>
<g id="L5_2604" class="node"><ellipse cx="2603.7" cy="509.33" rx="36" ry="24"/><text x="2603.7" y="514.93">5</text></g>
<g id="L5_4102" class="node"><ellipse cx="4102.1" cy="509.33" rx="39.5" ry="24"/><text x="4102.1" y="514.93">R822</text></g>
<g id="L5_4202" class="node"><ellipse cx="4202" cy="509.33" rx="36" ry="24"/><text x="4202" y="514.93">38</text></g>
<g id="L5_4302" class="node"><ellipse cx="4301.9" cy="509.33" rx="36" ry="24"/><text x="4301.9" y="514.93">26</text></g>
<g id="L5_4398" class="node"><ellipse cx="4398" cy="509.33" rx="36" ry="24"/><text x="4398" y="514.93">38</text></g>
<g id="L5_4505" class="node"><ellipse cx="4504.9" cy="509.33" rx="45.5" ry="24"/><text x="4504.9" y="514.93">R2333</text></g>
<g id="L5_4610" class="node"><ellipse cx="4610" cy="509.33" rx="36" ry="24"/><text x="4610" y="514.93">9</text></g>
<g id="L5_5235" class="node"><ellipse cx="5235.4" cy="509.33" rx="36" ry="24"/><text x="5235.4" y="514.93">37</text></g>
<g id="L5_5332" class="node"><ellipse cx="5331.6" cy="509.33" rx="36" ry="24"/><text x="5331.6" y="514.93">41</text></g>
<g id="L5_6135" class="node"><ellipse cx="6135.4" cy="509.33" rx="36" ry="24"/><text x="6135.4" y="514.93">R25</text></g>
<g id="L5_6257" class="node"><ellipse cx="6256.7" cy="509.33" rx="36" ry="24"/><text x="6256.7" y="514.93">39</text></g>
<g id="L5_6357" class="node"><ellipse cx="6357" cy="509.33" rx="39.5" ry="24"/><text x="6357" y="514.93">R557</text></g>
<g id="L5_6460" class="node"><ellipse cx="6459.9" cy="509.33" rx="39.5" ry="24"/><text x="6459.9" y="514.93">R139</text></g>
<g id="L5_6559" class="node"><ellipse cx="6559" cy="509.33" rx="36" ry="24"/><text x="6559" y="514.93">23</text></g>
<g id="L5_6656" class="node"><ellipse cx="6655.6" cy="509.33" rx="36" ry="24"/><text x="6655.6" y="514.93">39</text></g>
<g id="L6_1891" class="node"><ellipse cx="1891.3" cy="605.33" rx="36" ry="24"/><text x="1891.3" y="610.93">34</text></g>
<g id="L6_1988" class="node"><ellipse cx="1987.5" cy="605.33" rx="36" ry="24"/><text x="1987.5" y="610.93">8</text></g>
<g id="L6_2086" class="node"><ellipse cx="2086.3" cy="605.33" rx="36" ry="24"/><text x="2086.3" y="610.93">34</text></g>
<g id="L6_2182" class="node"><ellipse cx="2182.1" cy="605.33" rx="36" ry="24"/><text x="2182.1" y="610.93">1</text></g>
<g id="L6_4054" class="node"><ellipse cx="4054" cy="605.33" rx="36" ry="24"/><text x="4054" y="610.93">6</text></g>
<g id="L6_4150" class="node"><ellipse cx="4150.2" cy="605.33" rx="36" ry="24"/><text x="4150.2" y="610.93">25</text></g>
<g id="L6_4457" class="node"><ellipse cx="4457.3" cy="605.33" rx="36" ry="24"/><text x="4457.3" y="610.93">9</text></g>
<g id="L6_4552" class="node"><ellipse cx="4552.3" cy="605.33" rx="36" ry="24"/><text x="4552.3" y="610.93">26</text></g>
<g id="L6_6040" class="node"><ellipse cx="6039.6" cy="605.33" rx="36" ry="24"/><text x="6039.6" y="610.93">39</text></g>
<g id="L6_6135" class="node"><ellipse cx="6135.4" cy="605.33" rx="36" ry="24"/><text x="6135.4" y="610.93">30</text></g>
<g id="L6_6241" class="node"><ellipse cx="6240.8" cy="605.33" rx="45.5" ry="24"/><text x="6240.8" y="610.93">R2072</text></g>
<g id="L6_6357" class="node"><ellipse cx="6357" cy="605.33" rx="45.5" ry="24"/><text x="6357" y="610.93">R2072</text></g>
<g id="L6_6462" class="node"><ellipse cx="6462.1" cy="605.33" rx="36" ry="24"/><text x="6462.1" y="610.93">23</text></g>
<g id="L6_6558" class="node"><ellipse cx="6558" cy="605.33" rx="36" ry="24"/><text x="6558" y="610.93">39</text></g>
<g id="L7_6150" class="node"><ellipse cx="6149.8" cy="701.33" rx="36" ry="24"/><text x="6149.8" y="706.93">30</text></g>
<g id="L7_6246" class="node"><ellipse cx="6246" cy="701.33" rx="36" ry="24"/><text x="6246" y="706.93">39</text></g>
<g id="L7_6352" class="node"><ellipse cx="6351.5" cy="701.33" rx="36" ry="24"/><text x="6351.5" y="706.93">30</text></g>
<g id="L7_6448" class="node"><ellipse cx="6447.7" cy="701.33" rx="36" ry="24"/><text x="6447.7" y="706.93">39</text></g>
</svg>
